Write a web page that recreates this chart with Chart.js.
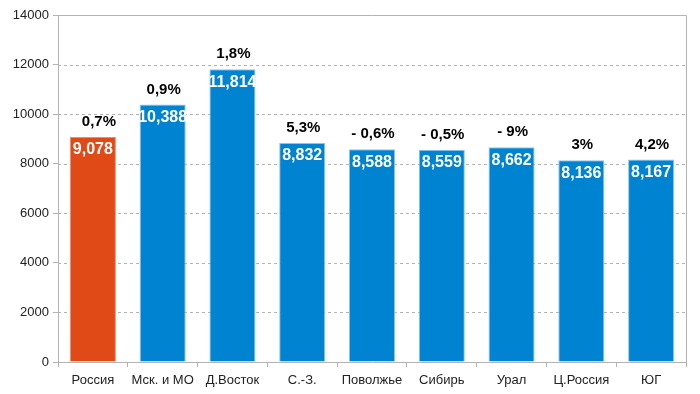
<!DOCTYPE html>
<html>
<head>
<meta charset="utf-8">
<script src="https://cdn.jsdelivr.net/npm/chart.js@4"></script>
<style>
body { margin: 0; background: #fff; }
#wrap { width: 700px; height: 394px; }
</style>
</head>
<body>
<div id="wrap"><canvas id="grafico"></canvas></div>
<script>
var regioes = ['Россия', 'Мск. и МО', 'Д.Восток', 'С.-З.', 'Поволжье', 'Сибирь', 'Урал', 'Ц.Россия', 'ЮГ'];
var valores = [9078, 10388, 11814, 8832, 8588, 8559, 8662, 8136, 8167];
var rotulosValor = ['9,078', '10,388', '11,814', '8,832', '8,588', '8,559', '8,662', '8,136', '8,167'];
var variacao = ['0,7%', '0,9%', '1,8%', '5,3%', '- 0,6%', '- 0,5%', '- 9%', '3%', '4,2%'];
var cores = ['#E04A17', '#0083D1', '#0083D1', '#0083D1', '#0083D1', '#0083D1', '#0083D1', '#0083D1', '#0083D1'];
var bordas = ['#F08A6A', '#8CC4EA', '#8CC4EA', '#8CC4EA', '#8CC4EA', '#8CC4EA', '#8CC4EA', '#8CC4EA', '#8CC4EA'];

// linhas tracejadas da grade
var grade = {
    id: 'grade',
    beforeDatasetsDraw(chart) {
        var ctx = chart.ctx;
        var a = chart.chartArea;
        var y = chart.scales.y;
        ctx.save();
        ctx.strokeStyle = '#b3b3b3';
        ctx.lineWidth = 1;
        ctx.setLineDash([3, 3]);
        y.ticks.forEach((t) => {
            if (t.value == 0 || t.value == 14000) return;
            var py = Math.round(y.getPixelForValue(t.value)) + 0.5;
            ctx.beginPath();
            ctx.moveTo(a.left, py);
            ctx.lineTo(a.right, py);
            ctx.stroke();
        });
        ctx.restore();
    }
};

var rotulos = {
    id: 'rotulos',
    afterDatasetsDraw(chart) {
        var ctx = chart.ctx;
        var meta = chart.getDatasetMeta(0);
        ctx.save();
        ctx.textAlign = 'center';
        ctx.textBaseline = 'middle';
        meta.data.forEach((barra, i) => {
            ctx.font = 'bold 16px "Liberation Sans", Arial, sans-serif';
            ctx.fillStyle = '#ffffff';
            ctx.fillText(rotulosValor[i], barra.x, barra.y + 13);
            ctx.font = 'bold 15px "Liberation Sans", Arial, sans-serif';
            ctx.fillStyle = '#000000';
            ctx.fillText(variacao[i], barra.x + (i == 0 ? 6 : 1), barra.y - 15);
        });
        // moldura superior e direita
        var a = chart.chartArea;
        ctx.strokeStyle = '#b3b3b3';
        ctx.lineWidth = 1;
        ctx.beginPath();
        ctx.moveTo(Math.round(a.left) + 0.5, Math.round(a.top) + 0.5);
        ctx.lineTo(Math.round(a.right) + 0.5, Math.round(a.top) + 0.5);
        ctx.lineTo(Math.round(a.right) + 0.5, Math.round(a.bottom) + 0.5);
        ctx.stroke();
        ctx.restore();
    }
};

var grafico = new Chart(document.getElementById('grafico').getContext('2d'), {
    type: 'bar',
    data: {
        labels: regioes,
        datasets: [{
            data: valores,
            backgroundColor: cores,
            borderColor: bordas,
            borderWidth: 1,
            barPercentage: 0.66,
            categoryPercentage: 1
        }]
    },
    options: {
        responsive: true,
        maintainAspectRatio: false,
        animation: false,
        layout: {
            padding: { left: 0, right: 14, top: 15, bottom: 0 }
        },
        plugins: {
            legend: { display: false },
            tooltip: { enabled: false }
        },
        scales: {
            x: {
                afterFit: function (escala) { escala.height = 32; },
                grid: {
                    offset: true,
                    drawOnChartArea: false,
                    drawTicks: true,
                    tickLength: 5,
                    color: '#b3b3b3'
                },
                border: { color: '#b3b3b3' },
                ticks: {
                    color: '#222',
                    font: { family: '"Liberation Sans", Arial, sans-serif', size: 13 },
                    padding: 6,
                    maxRotation: 0
                }
            },
            y: {
                min: 0,
                max: 14000,
                afterFit: function (escala) { escala.width = 58; },
                grid: {
                    color: '#b3b3b3',
                    drawOnChartArea: false,
                    tickLength: 5
                },
                border: { color: '#b3b3b3' },
                ticks: {
                    stepSize: 2000,
                    color: '#222',
                    font: { family: '"Liberation Sans", Arial, sans-serif', size: 13 },
                    padding: 4,
                    callback: function (v) { return String(v); }
                }
            }
        }
    },
    plugins: [grade, rotulos]
});
</script>
</body>
</html>
